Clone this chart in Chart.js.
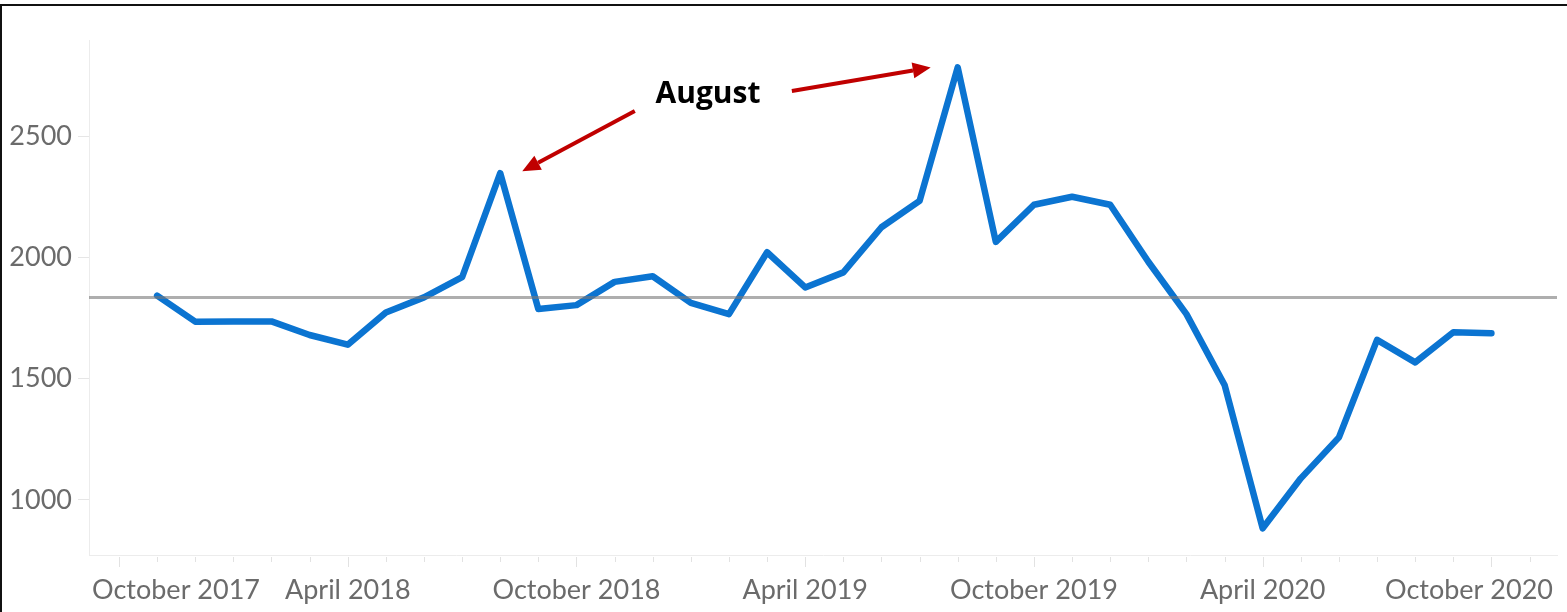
<!DOCTYPE html>
<html>
<head>
<meta charset="utf-8">
<script src="https://cdn.jsdelivr.net/npm/chart.js@4.4.0/dist/chart.umd.min.js"></script>
<style>
  html, body { margin: 0; padding: 0; background: #fff; }
  #wrap { position: relative; width: 1567px; height: 612px; }
  #frame { position: absolute; left: 0; top: 4px; right: 0; bottom: 0; border-top: 2px solid #111; border-left: 2px solid #111; pointer-events: none; }
</style>
</head>
<body>
<div id="wrap"><canvas id="chart"></canvas><div id="frame"></div></div>
<script>
// monthly values, Nov 2017 .. Oct 2020 (month index 0 = October 2017)
const months = [
  'Nov 2017', 'Dec 2017', 'Jan 2018', 'Feb 2018', 'Mar 2018', 'Apr 2018',
  'May 2018', 'Jun 2018', 'Jul 2018', 'Aug 2018', 'Sep 2018', 'Oct 2018',
  'Nov 2018', 'Dec 2018', 'Jan 2019', 'Feb 2019', 'Mar 2019', 'Apr 2019',
  'May 2019', 'Jun 2019', 'Jul 2019', 'Aug 2019', 'Sep 2019', 'Oct 2019',
  'Nov 2019', 'Dec 2019', 'Jan 2020', 'Feb 2020', 'Mar 2020', 'Apr 2020',
  'May 2020', 'Jun 2020', 'Jul 2020', 'Aug 2020', 'Sep 2020', 'Oct 2020'
]
const values = [
  1842, 1735, 1736, 1736, 1680, 1640,
  1773, 1835, 1918, 2347, 1787, 1803,
  1899, 1922, 1812, 1766, 2021, 1876,
  1938, 2124, 2233, 2783, 2064, 2217,
  2250, 2217, 1982, 1766, 1474, 883,
  1089, 1258, 1660, 1567, 1691, 1687
]
const average = 1835
const tickLabels = ['October 2017', 'April 2018', 'October 2018', 'April 2019', 'October 2019', 'April 2020', 'October 2020']
const yTicks = [1000, 1500, 2000, 2500]
const peakLabel = 'August'
const peakMonths = ['Aug 2018', 'Aug 2019']

const xMin = -0.787, xMax = 37.72
const monthIndex = (m) => months.indexOf(m) + 1

// bottom axis: month ticks (long every 6 months) and labels kept inside the frame
const axisExtras = {
  id: 'axisExtras',
  afterDraw(chart) {
    const ctx = chart.ctx, xs = chart.scales.x, area = chart.chartArea
    ctx.save()
    ctx.strokeStyle = '#e2e2e2'
    ctx.lineWidth = 1
    for (let m = 0; m <= 37; m++) {
      const px = Math.round(xs.getPixelForValue(m)) + 0.5
      const len = m % 6 === 0 ? 10 : 5
      ctx.beginPath()
      ctx.moveTo(px, area.bottom + 2)
      ctx.lineTo(px, area.bottom + 2 + len)
      ctx.stroke()
    }
    ctx.font = '27px Lato'
    ctx.fillStyle = '#6b6b6b'
    ctx.textAlign = 'center'
    ctx.textBaseline = 'alphabetic'
    tickLabels.forEach((t, k) => {
      const w = ctx.measureText(t).width
      let cx = xs.getPixelForValue(k * 6)
      cx = Math.max(cx, area.left + 3 + w / 2)
      cx = Math.min(cx, chart.width - 14 - w / 2)
      ctx.fillText(t, cx, area.bottom + 44)
    })
    ctx.restore()
  }
}

// "August" callout with two red arrows pointing at the peaks
const annotate = {
  id: 'annotate',
  afterDatasetsDraw(chart) {
    const ctx = chart.ctx, xs = chart.scales.x, ys = chart.scales.y
    ctx.save()
    ctx.font = 'bold 30px "Open Sans"'
    ctx.fillStyle = '#000'
    ctx.textAlign = 'center'
    ctx.textBaseline = 'alphabetic'
    ctx.fillText(peakLabel, xs.getPixelForValue(15.45), ys.getPixelForValue(2636))

    const tails = [[13.53, 2603], [17.65, 2686]]
    const offsets = [[22, -2], [-27, 0]]
    ctx.strokeStyle = '#c00000'
    ctx.fillStyle = '#c00000'
    ctx.lineWidth = 4
    peakMonths.forEach((m, i) => {
      const idx = monthIndex(m)
      const tipX = xs.getPixelForValue(idx) + offsets[i][0]
      const tipY = ys.getPixelForValue(values[idx - 1]) + offsets[i][1]
      const sx = xs.getPixelForValue(tails[i][0]), sy = ys.getPixelForValue(tails[i][1])
      const ang = Math.atan2(tipY - sy, tipX - sx)
      const hl = 18, hw = 8
      const bx = tipX - hl * Math.cos(ang), by = tipY - hl * Math.sin(ang)
      ctx.beginPath()
      ctx.moveTo(sx, sy)
      ctx.lineTo(bx, by)
      ctx.stroke()
      ctx.beginPath()
      ctx.moveTo(tipX, tipY)
      ctx.lineTo(bx + hw * Math.sin(ang), by - hw * Math.cos(ang))
      ctx.lineTo(bx - hw * Math.sin(ang), by + hw * Math.cos(ang))
      ctx.closePath()
      ctx.fill()
    })
    ctx.restore()
  }
}

function draw() {
  new Chart(document.getElementById('chart'), {
    type: 'line',
    data: {
      datasets: [{
        label: 'Average',
        data: [{ x: xMin, y: average }, { x: xMax, y: average }],
        borderColor: 'rgba(120,120,120,0.6)',
        borderWidth: 3,
        pointRadius: 0
      }, {
        label: 'Monthly',
        data: months.map((m, i) => ({ x: i + 1, y: values[i] })),
        borderColor: '#0b74d1',
        borderWidth: 6.5,
        borderJoinStyle: 'round',
        borderCapStyle: 'round',
        pointRadius: 0,
        tension: 0
      }]
    },
    options: {
      responsive: true,
      maintainAspectRatio: false,
      animation: false,
      layout: { padding: { top: 40, right: 10, left: 0, bottom: 0 } },
      plugins: { legend: { display: false }, tooltip: { enabled: false } },
      scales: {
        x: {
          type: 'linear',
          min: xMin,
          max: xMax,
          afterBuildTicks: (s) => { s.ticks = Array.from({ length: 38 }, (_, i) => ({ value: i })) },
          afterFit: (s) => { s.height = 57 },
          grid: { display: false },
          border: { color: '#ececec' },
          ticks: { display: false }
        },
        y: {
          min: 773,
          max: 2896,
          afterBuildTicks: (s) => { s.ticks = yTicks.map(v => ({ value: v })) },
          afterFit: (s) => { s.width = 89 },
          grid: { drawOnChartArea: false, tickLength: 11, tickColor: '#e6e6e6' },
          border: { color: '#ececec' },
          ticks: {
            color: '#6b6b6b',
            padding: 6,
            font: { family: 'Lato', size: 27 },
            callback: (v) => String(v)
          }
        }
      }
    },
    plugins: [axisExtras, annotate]
  })
}

Promise.all([
  document.fonts.load('27px Lato'),
  document.fonts.load('bold 30px "Open Sans"')
]).then(draw, draw)
</script>
</body>
</html>
